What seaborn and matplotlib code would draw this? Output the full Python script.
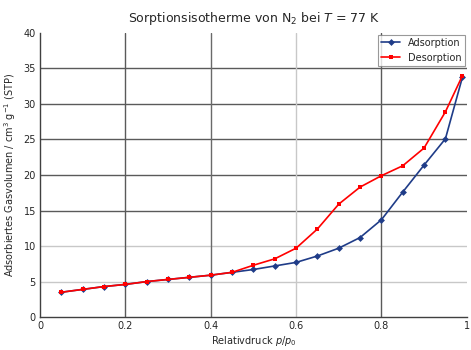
import matplotlib
matplotlib.use("Agg")
import matplotlib.pyplot as plt
import seaborn as sns
import pandas as pd

p_rel = [0.05, 0.10, 0.15, 0.20, 0.25, 0.30, 0.35, 0.40, 0.45, 0.50,
         0.55, 0.60, 0.65, 0.70, 0.75, 0.80, 0.85, 0.90, 0.95, 0.99]
adsorption = [3.5, 3.9, 4.3, 4.6, 5.0, 5.3, 5.6, 5.9, 6.3, 6.7,
              7.2, 7.7, 8.6, 9.7, 11.2, 13.7, 17.6, 21.4, 25.1, 33.8]
desorption = [3.5, 3.9, 4.3, 4.6, 5.0, 5.3, 5.6, 5.9, 6.3, 7.3,
              8.2, 9.7, 12.4, 15.9, 18.3, 19.9, 21.3, 23.8, 28.9, 34.0]
series_names = ["Adsorption", "Desorption"]
x_ticks = [0, 0.2, 0.4, 0.6, 0.8, 1]
x_tick_labels = ["0", "0.2", "0.4", "0.6", "0.8", "1"]
y_ticks = [0, 5, 10, 15, 20, 25, 30, 35, 40]

df = pd.concat([
    pd.DataFrame({"p": p_rel, "V": adsorption, "Serie": series_names[0]}),
    pd.DataFrame({"p": p_rel, "V": desorption, "Serie": series_names[1]}),
])

sns.set_style("white")
plt.rcParams["font.family"] = ["DejaVu Sans"]

fig = plt.figure(figsize=(4.71, 3.5), dpi=100)
ax = fig.add_axes([0.085, 0.094, 0.906, 0.812])

ax.set_xlim(0, 1)
ax.set_ylim(0, 40)
ax.set_xticks(x_ticks)
ax.set_xticklabels(x_tick_labels)
ax.set_yticks(y_ticks)

# gridlines
for yv in y_ticks[1:-1]:
    ax.axhline(yv, color="#5a5a5a" if yv >= 15 else "#c8c8c8", lw=1.0, zorder=0)
for xv, c in zip(x_ticks[1:-1], ["#5a5a5a", "#6a6a6a", "#c8c8c8", "#5a5a5a"]):
    ax.axvline(xv, color=c, lw=1.0, zorder=0)

sns.lineplot(data=df, x="p", y="V", hue="Serie", style="Serie",
             palette={"Adsorption": "#1f3c88", "Desorption": "#ff0000"},
             markers={"Adsorption": "D", "Desorption": "s"},
             dashes=False, markersize=3.5, linewidth=1.2,
             markeredgewidth=0, ax=ax, legend=True, sort=False)

for sp in ["top", "right"]:
    ax.spines[sp].set_visible(False)
for sp in ["left", "bottom"]:
    ax.spines[sp].set_color("#404040")
    ax.spines[sp].set_linewidth(1.0)

ax.tick_params(axis="x", direction="out", length=2, width=1, color="#404040",
               labelsize=7, pad=1)
ax.tick_params(axis="y", length=0, labelsize=7, pad=3)

ax.set_xlabel("Relativdruck $p/p_0$", fontsize=7, labelpad=2)
ax.set_ylabel("Adsorbiertes Gasvolumen / cm$^3$ g$^{-1}$ (STP)", fontsize=7, labelpad=4)
ax.set_title("Sorptionsisotherme von N$_2$ bei $T$ = 77 K", fontsize=9, pad=8)

leg = ax.legend(loc="upper right", fontsize=7, frameon=True, fancybox=False,
                borderaxespad=0.2, handlelength=2, borderpad=0.3, labelspacing=0.5)
leg.get_frame().set_edgecolor("#808080")
leg.get_frame().set_linewidth(0.8)

fig.savefig("out.png", dpi=100)
